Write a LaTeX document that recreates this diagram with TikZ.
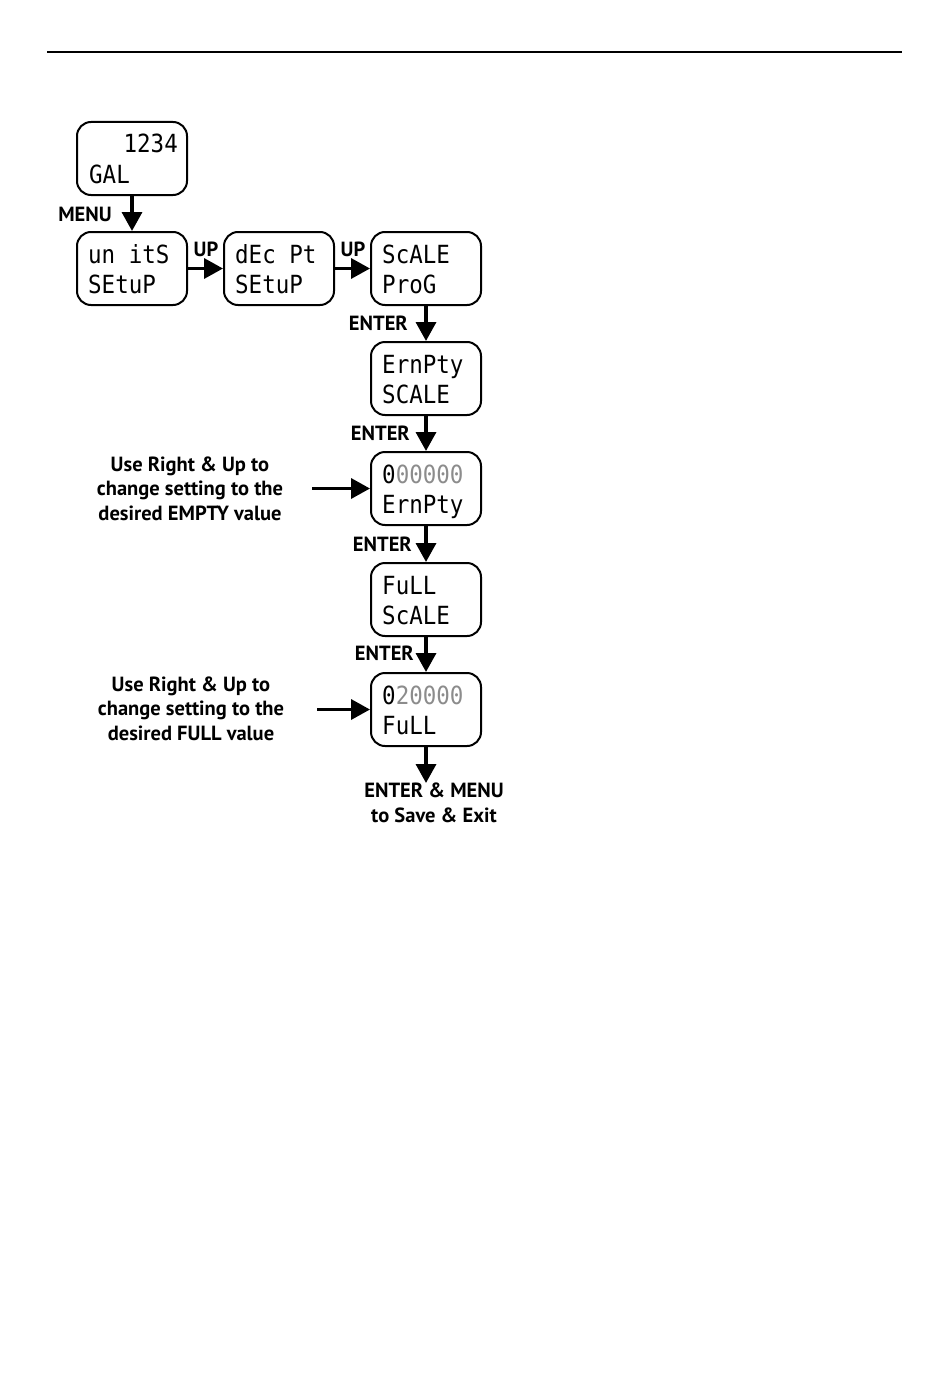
\documentclass[tikz,border=0pt]{standalone}
\usepackage{fontspec}
\setmainfont{PT Sans}
\newfontfamily\lcd[FakeStretch=0.9]{DejaVu Sans Mono}
\usetikzlibrary{arrows.meta}
\begin{document}
\begin{tikzpicture}[x=1pt,y=-1pt,
  lcdbox/.style={draw, line width=2pt, rounded corners=14pt, minimum width=110pt, minimum height=73pt, inner sep=0pt},
  lcdtxt/.style={inner sep=0pt, font=\lcd\fontsize{25}{25}\selectfont},
  lbl/.style={font=\bfseries\fontsize{20.5}{24.5}\selectfont, inner sep=0pt},
  flow/.style={line width=3.5pt, -{Triangle[width=20pt,length=19pt]}}]
\useasboundingbox (0,0) rectangle (950,1394);
\coordinate (ruleL) at (47,52);
\coordinate (ruleR) at (902,52);
\draw[line width=2pt] (ruleL) -- (ruleR);

% boxes
\node[lcdbox] (gal) at (132,158.5) {};
\node[lcdbox] (units) at (132,268.5) {};
\node[lcdbox] (dec) at (279,268.5) {};
\node[lcdbox] (scale) at (426,268.5) {};
\node[lcdbox] (empty) at (426,378.5) {};
\node[lcdbox] (emptyval) at (426,488.5) {};
\node[lcdbox] (full) at (426,599.5) {};
\node[lcdbox] (fullval) at (426,709.5) {};

% display texts
\node[lcdtxt, anchor=base east] (g1) at ([shift={(-10,32)}]gal.north east) {1234};
\node[lcdtxt, anchor=base west] (g2) at ([shift={(13,62)}]gal.north west) {GAL};
\foreach \b/\la/\lb in {units/un itS/SEtuP, dec/dEc Pt/SEtuP, scale/ScALE/ProG, empty/ErnPty/SCALE, full/FuLL/ScALE}{
  \node[lcdtxt, anchor=base west] (\b-1) at ([shift={(12,32)}]\b.north west) {\la};
  \node[lcdtxt, anchor=base west] (\b-2) at ([shift={(12,62)}]\b.north west) {\lb};
}
\node[lcdtxt, anchor=base west] (ev1) at ([shift={(12,32)}]emptyval.north west) {0\textcolor{black!45}{00000}};
\node[lcdtxt, anchor=base west] (ev2) at ([shift={(12,62)}]emptyval.north west) {ErnPty};
\node[lcdtxt, anchor=base west] (fv1) at ([shift={(12,32)}]fullval.north west) {0\textcolor{black!45}{20000}};
\node[lcdtxt, anchor=base west] (fv2) at ([shift={(12,62)}]fullval.north west) {FuLL};

% connectors
\draw[flow] (gal) -- (units);
\draw[flow] (units) -- (dec);
\draw[flow] (dec) -- (scale);
\draw[flow] (scale) -- (empty);
\draw[flow] (empty) -- (emptyval);
\draw[flow] (emptyval) -- (full);
\draw[flow] (full) -- (fullval);

% labels
\node[lbl] (menu) at (85,214) {MENU};
\node[lbl] (up1) at (206,249) {UP};
\node[lbl] (up2) at (353,249) {UP};
\node[lbl, anchor=east] (en1) at (408,323) {ENTER};
\node[lbl, anchor=east] (en2) at (410,433) {ENTER};
\node[lbl, anchor=east] (en3) at (412,544) {ENTER};
\node[lbl, anchor=east] (en4) at (414,653) {ENTER};

\node[lbl, align=center, anchor=north] (exit) at (434,783) {ENTER \& MENU\\to Save \& Exit};
\draw[flow] (fullval.south) -- (fullval.south |- exit.north);

\node[lbl, align=center] (note1) at (190,488.5) {Use Right \& Up to\\change setting to the\\desired EMPTY value};
\node[lbl, align=center] (note2) at (191,708.5) {Use Right \& Up to\\change setting to the\\desired FULL value};
\coordinate (a1) at (312,488.5);
\coordinate (a2) at (317,709.5);
\draw[flow] (a1) -- (emptyval.west);
\draw[flow] (a2) -- (fullval.west);
\end{tikzpicture}
\end{document}
